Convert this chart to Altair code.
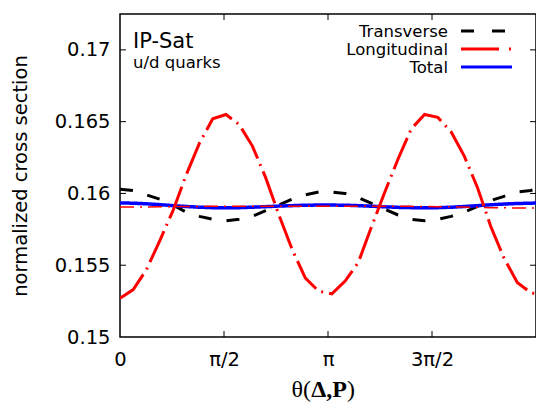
import altair as alt
import pandas as pd

PI = 3.141592653589793

# angle samples (rad)
theta = [0.0, 0.2, 0.4, 0.6, 0.8, 1.0, 1.2, 1.4, 1.6, 1.8, 2.0, 2.2, 2.4, 2.6, 2.8, 3.0,
         3.2, 3.4, 3.6, 3.8, 4.0, 4.2, 4.4, 4.6, 4.8, 5.0, 5.2, 5.4, 5.6, 5.8, 6.0, 6.2, 6.2832]

transverse = [0.1603, 0.1602, 0.1599, 0.1596, 0.1592, 0.1587, 0.1584, 0.1582, 0.1581, 0.1582,
              0.1584, 0.1588, 0.1592, 0.1596, 0.1599, 0.1601, 0.1601, 0.1600, 0.1597, 0.1593,
              0.1589, 0.1585, 0.1582, 0.1581, 0.1582, 0.1584, 0.1587, 0.1591, 0.1595, 0.1598,
              0.1601, 0.1602, 0.1603]

longitudinal = [0.1527, 0.1533, 0.1547, 0.1567, 0.1588, 0.1613, 0.1635, 0.1652, 0.1655, 0.1648,
                0.1633, 0.1611, 0.1585, 0.1561, 0.1541, 0.1532, 0.1530, 0.1539, 0.1552, 0.1577,
                0.1601, 0.1624, 0.1645, 0.1655, 0.1653, 0.1643, 0.1626, 0.1604, 0.1577, 0.1555,
                0.1538, 0.1531, 0.1530]

total = [0.15934, 0.15932, 0.15928, 0.15922, 0.15915, 0.15909, 0.15904, 0.15901, 0.15900, 0.15901,
         0.15904, 0.15908, 0.15912, 0.15915, 0.15918, 0.15919, 0.15919, 0.15918, 0.15915, 0.15911,
         0.15907, 0.15903, 0.15901, 0.15900, 0.15901, 0.15904, 0.15909, 0.15915, 0.15921, 0.15926,
         0.15930, 0.15932, 0.15933]

longitudinal_flat = [0.15905, 0.15905, 0.15906, 0.15907, 0.15908, 0.15909, 0.1591, 0.1591, 0.1591,
                     0.1591, 0.1591, 0.15911, 0.15911, 0.15911, 0.15911, 0.15911, 0.15911, 0.15911,
                     0.1591, 0.1591, 0.1591, 0.1591, 0.1591, 0.15909, 0.15908, 0.15907, 0.15905,
                     0.15903, 0.15901, 0.159, 0.15899, 0.15898, 0.15898]

series_names = ["Transverse", "Longitudinal", "Total"]
series_colors = ["#000000", "#ff0000", "#0000ff"]
series_dashes = [[13, 15], [34, 6, 2, 6], [1, 0]]
legend_dashes = [[13, 18], [38, 10, 2, 20], [1, 0]]

x_ticks = [0, PI / 2, PI, 3 * PI / 2]
x_tick_labels = ["0", "π/2", "π", "3π/2"]
y_ticks = [0.15, 0.155, 0.16, 0.165, 0.17]

W, H = 416, 323
SANS = "DejaVu Sans"

rows = []
for name, vals in zip(series_names, [transverse, longitudinal, total]):
    for t, v in zip(theta, vals):
        rows.append({"theta": t, "value": v, "series": name})
df = pd.DataFrame(rows)
df_flat = pd.DataFrame({"theta": theta, "value": longitudinal_flat})

xscale = alt.Scale(domain=[0, 2 * PI], nice=False, zero=False)
yscale = alt.Scale(domain=[0.15, 0.1725], nice=False, zero=False)

label_js = "[" + ",".join("'%s'" % s for s in x_tick_labels) + "]"

xaxis = alt.Axis(values=x_ticks, labelExpr=label_js + "[round(datum.value / (PI / 2))]",
                 ticks=False, domain=False, grid=False, title=None, labelPadding=13,
                 labelFontSize=19.5, labelFont=SANS, labelColor="black", labelFlush=False,
                 labelOverlap=False)
yaxis = alt.Axis(values=y_ticks, format="~g", ticks=False, domain=False, grid=False,
                 title="normalized cross section", titleFont=SANS, titleFontSize=19.5,
                 titleFontWeight="normal", titleColor="black", titlePadding=24,
                 labelPadding=10, labelFontSize=19.5, labelFont=SANS, labelColor="black",
                 labelFlush=False, labelOverlap=False)

color = alt.Color("series:N", scale=alt.Scale(domain=series_names, range=series_colors),
                  legend=None)
dash = alt.StrokeDash("series:N", scale=alt.Scale(domain=series_names, range=series_dashes),
                      legend=None)

def series_layer(name, width):
    return alt.Chart(df).transform_filter(alt.datum.series == name).mark_line(
        strokeWidth=width, clip=True).encode(
        x=alt.X("theta:Q", scale=xscale, axis=xaxis),
        y=alt.Y("value:Q", scale=yscale, axis=yaxis),
        color=color, strokeDash=dash, order="theta:Q")

flat = alt.Chart(df_flat).mark_line(color="#ff0000", strokeWidth=1.5,
                                    strokeDash=[14, 6, 2, 6], clip=True).encode(
    x=alt.X("theta:Q", scale=xscale), y=alt.Y("value:Q", scale=yscale))

xt = pd.DataFrame({"theta": x_ticks[1:]})
yt = pd.DataFrame({"value": y_ticks[1:]})
tick_bottom = alt.Chart(xt).mark_rule(color="black", strokeWidth=1).encode(
    x="theta:Q", y=alt.value(H), y2=alt.value(H - 6))
tick_top = alt.Chart(xt).mark_rule(color="black", strokeWidth=1).encode(
    x="theta:Q", y=alt.value(0), y2=alt.value(6))
tick_left = alt.Chart(yt).mark_rule(color="black", strokeWidth=1).encode(
    y="value:Q", x=alt.value(0), x2=alt.value(6))
tick_right = alt.Chart(yt).mark_rule(color="black", strokeWidth=1).encode(
    y="value:Q", x=alt.value(W), x2=alt.value(W - 6))

one = pd.DataFrame({"k": [0]})
ann1 = alt.Chart(one).mark_text(font=SANS, fontSize=21, align="left", baseline="alphabetic",
                                color="black").encode(
    x=alt.value(13), y=alt.value(34), text=alt.value("IP-Sat"))
ann2 = alt.Chart(one).mark_text(font=SANS, fontSize=16.5, align="left", baseline="alphabetic",
                                color="black").encode(
    x=alt.value(13), y=alt.value(54), text=alt.value("u/d quarks"))

# legend (symbol to the right of the label, as in the reference)
LEG_LABEL_X, LEG_SYM_X0, LEG_SYM_X1, LEG_Y0, LEG_DY = 328, 341, 392, 17, 18
legend_layers = []
for i, (name, col, dsh) in enumerate(zip(series_names, series_colors, legend_dashes)):
    ly = LEG_Y0 + LEG_DY * i
    legend_layers.append(alt.Chart(one).mark_text(
        font=SANS, fontSize=16.5, align="right", baseline="middle", color="black").encode(
        x=alt.value(LEG_LABEL_X), y=alt.value(ly + 1), text=alt.value(name)))
    legend_layers.append(alt.Chart(one).mark_rule(
        color=col, strokeWidth=3, strokeDash=dsh).encode(
        x=alt.value(LEG_SYM_X0), x2=alt.value(LEG_SYM_X1), y=alt.value(ly)))

CX = 209
XT_Y = H + 60
XF = 24
xt1 = alt.Chart(one).mark_text(font="Liberation Serif", fontSize=XF, align="right",
                               baseline="alphabetic", color="black").encode(
    x=alt.value(CX - 18), y=alt.value(XT_Y), text=alt.value("θ("))
xt2 = alt.Chart(one).mark_text(font="Liberation Serif", fontSize=XF, fontWeight="bold",
                               align="center", baseline="alphabetic", color="black").encode(
    x=alt.value(CX), y=alt.value(XT_Y), text=alt.value("Δ,P"))
xt3 = alt.Chart(one).mark_text(font="Liberation Serif", fontSize=XF, align="left",
                               baseline="alphabetic", color="black").encode(
    x=alt.value(CX + 18), y=alt.value(XT_Y), text=alt.value(")"))

chart = alt.layer(
    series_layer("Transverse", 3), series_layer("Total", 3.5), flat,
    series_layer("Longitudinal", 3),
    tick_bottom, tick_top, tick_left, tick_right, ann1, ann2, xt1, xt2, xt3,
    *legend_layers
).properties(
    width=W, height=H,
    autosize=alt.AutoSizeParams(type="none"),
    padding={"left": 120, "top": 14, "right": 0, "bottom": 67},
).configure_view(
    stroke="black", strokeWidth=1.5
)

chart.save("out.html", embed_options={"renderer": "svg", "actions": False})
